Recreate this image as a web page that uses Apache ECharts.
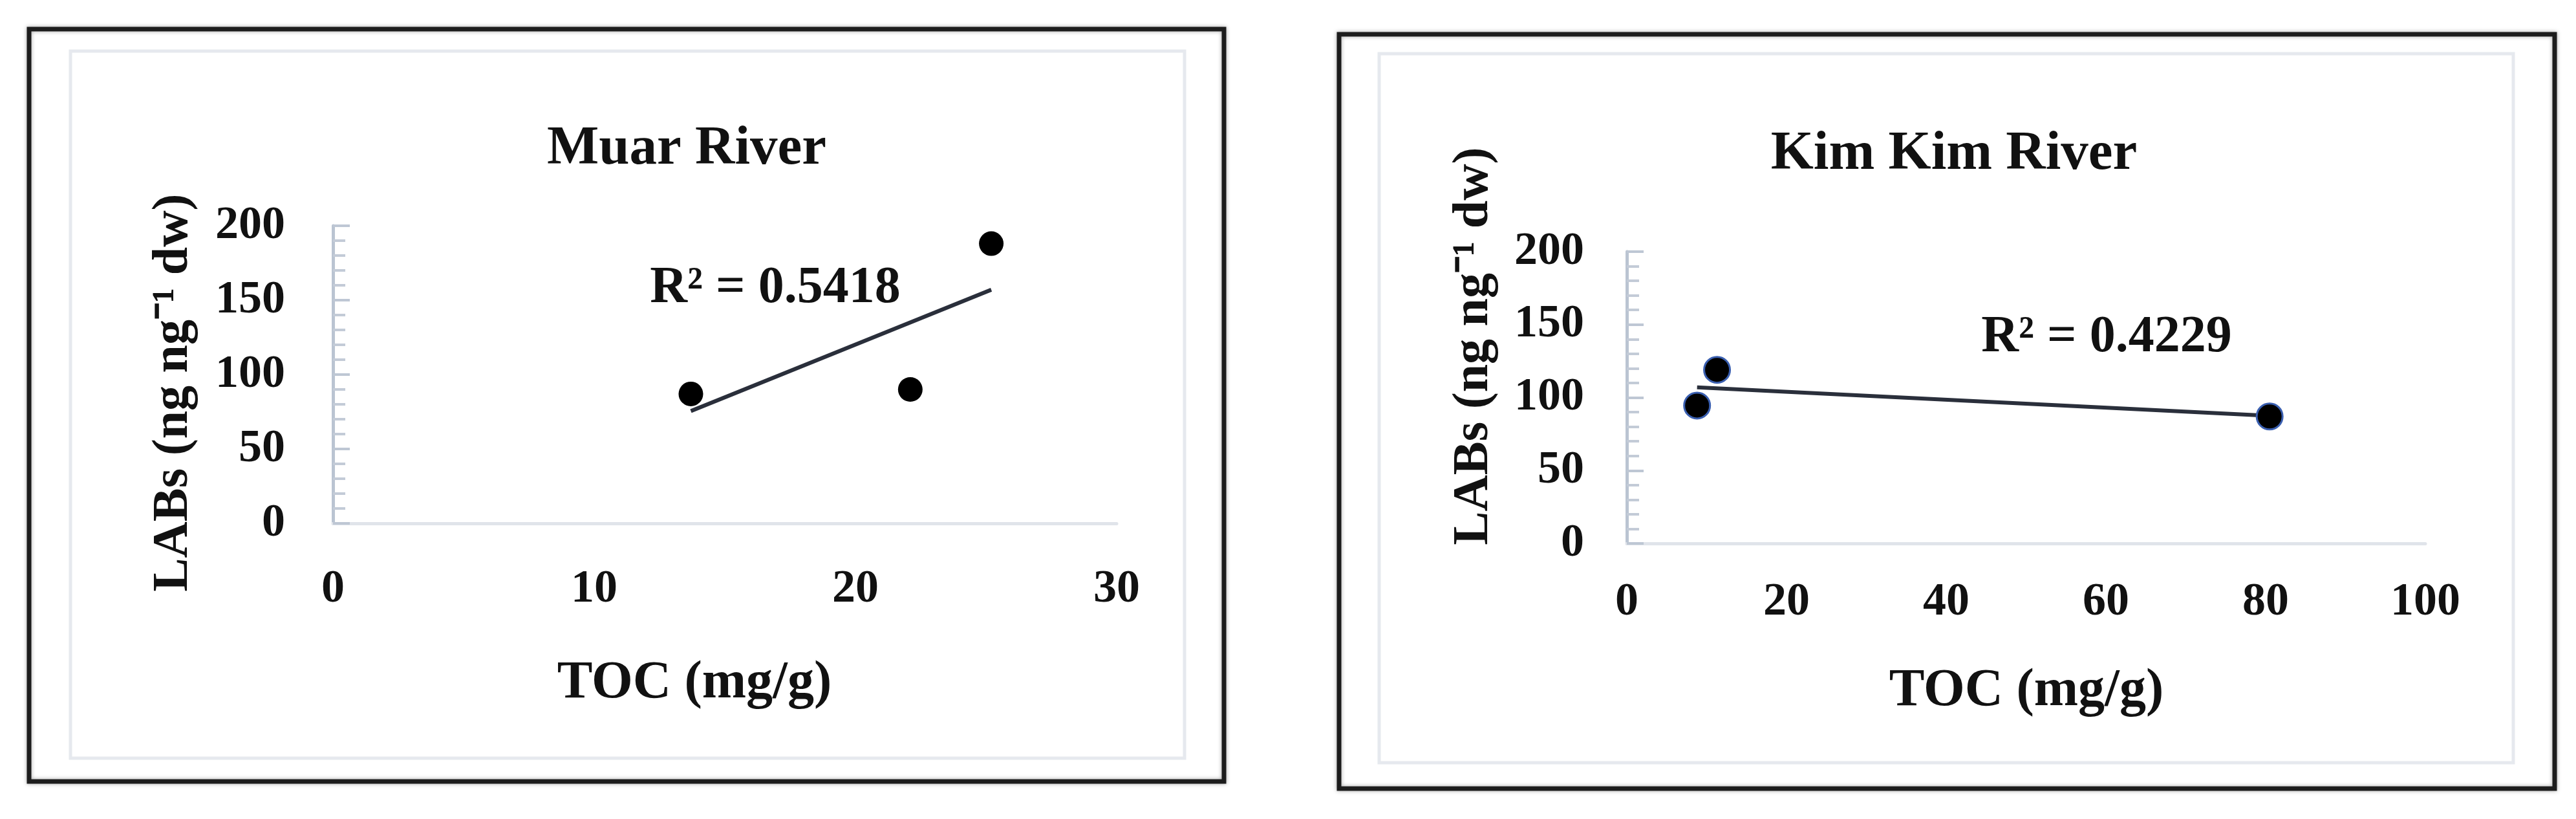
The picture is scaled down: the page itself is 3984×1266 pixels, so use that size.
<!DOCTYPE html>
<html>
<head>
<meta charset="utf-8">
<title>LABs vs TOC</title>
<script src="https://cdn.jsdelivr.net/npm/echarts@6/dist/echarts.min.js"></script>
<style>
  html, body { margin: 0; padding: 0; background: #fff; }
  #chart { width: 3984px; height: 1266px; }
</style>
</head>
<body>
<div id="chart"></div>
<script>
  // values
  const muarToc = [13.7, 22.1, 25.2];
  const muarLabs = [87, 90, 188];
  const muarTrendToc = [13.7, 25.2];
  const muarTrendLabs = [75.5, 157];

  const kimToc = [8.8, 11.3, 80.5];
  const kimLabs = [94.5, 119, 87];
  const kimTrendToc = [8.8, 80.5];
  const kimTrendLabs = [107, 87.5];

  const yTicks = [0, 50, 100, 150, 200];
  const muarXTicks = [0, 10, 20, 30];
  const kimXTicks = [0, 20, 40, 60, 80, 100];

  const titles = ['Muar River', 'Kim Kim River'];
  const r2Labels = ['R² = 0.5418', 'R² = 0.4229'];
  const xName = 'TOC (mg/g)';
  const yName = 'LABs (ng ng⁻¹ dw)';

  const serif = '"Liberation Serif", "Times New Roman", serif';

  function pairs(xs, ys) {
    return xs.map((x, i) => [x, ys[i]]);
  }

  function xAxisOpt(grid, ticks, margin) {
    return {
      type: 'value', gridIndex: grid,
      min: ticks[0], max: ticks[ticks.length - 1], interval: ticks[1] - ticks[0],
      axisLine: { show: true, lineStyle: { color: '#e0e4ea', width: 5 } },
      axisTick: { show: false },
      splitLine: { show: false },
      axisLabel: { color: '#111', fontFamily: serif, fontWeight: 'bold', fontSize: 72, margin: margin }
    };
  }

  function yAxisOpt(grid, margin) {
    return {
      type: 'value', gridIndex: grid,
      min: yTicks[0], max: yTicks[yTicks.length - 1], interval: yTicks[1] - yTicks[0],
      axisLine: { show: true, lineStyle: { color: '#bac4d2', width: 5 } },
      axisTick: { show: true, inside: true, length: 26, lineStyle: { color: '#bec7d4', width: 4 } },
      minorTick: { show: true, splitNumber: 5, length: 19, lineStyle: { color: '#c3cbd7', width: 4 } },
      splitLine: { show: false },
      axisLabel: { color: '#111', fontFamily: serif, fontWeight: 'bold', fontSize: 72, margin: margin }
    };
  }

  function text(x, y, str, size, rot) {
    return {
      type: 'text', x: x, y: y, rotation: rot || 0, z: 10,
      style: {
        text: str, fill: '#111', align: 'center', verticalAlign: 'middle',
        font: 'bold ' + size + 'px ' + serif
      }
    };
  }

  function frame(x1, y1, x2, y2, color, w, shadow) {
    return {
      type: 'rect', z: 1,
      shape: { x: x1, y: y1, width: x2 - x1, height: y2 - y1 },
      style: {
        fill: null, stroke: color, lineWidth: w,
        shadowBlur: shadow ? 6 : 0, shadowColor: 'rgba(0,0,0,0.35)'
      }
    };
  }

  const myChart = echarts.init(document.getElementById('chart'), null, { renderer: 'canvas' });

  const option = {
    backgroundColor: '#fff',
    animation: false,
    grid: [
      { left: 515, top: 349, width: 1212, height: 460 },
      { left: 2516, top: 389, width: 1235, height: 451 }
    ],
    xAxis: [xAxisOpt(0, muarXTicks, 66), xAxisOpt(1, kimXTicks, 55)],
    yAxis: [yAxisOpt(0, 74), yAxisOpt(1, 66)],
    graphic: [
      // panel borders
      frame(45, 45, 1893, 1208, '#1c1c1c', 7, true),
      frame(109, 79, 1832, 1172, '#e6e9ee', 5),
      frame(2071, 53, 3951, 1219, '#1c1c1c', 7, true),
      frame(2133, 83, 3887, 1179, '#e6e9ee', 5),
      // titles
      text(1062, 231, titles[0], 85),
      text(3022, 239, titles[1], 85),
      // axis names
      text(1074, 1057, xName, 82),
      text(3134, 1069, xName, 82),
      text(269, 607, yName, 78, Math.PI / 2),
      text(2280, 535, yName, 78, Math.PI / 2),
      // R squared
      text(1199, 446, r2Labels[0], 80),
      text(3258, 522, r2Labels[1], 80)
    ],
    series: [
      {
        name: 'Muar trend', type: 'line', xAxisIndex: 0, yAxisIndex: 0,
        data: pairs(muarTrendToc, muarTrendLabs),
        symbol: 'none', z: 2,
        lineStyle: { color: '#2a2f3b', width: 6 }
      },
      {
        name: 'Muar', type: 'scatter', xAxisIndex: 0, yAxisIndex: 0,
        data: pairs(muarToc, muarLabs),
        symbolSize: 38, z: 3,
        itemStyle: { color: '#000', opacity: 1 }
      },
      {
        name: 'Kim Kim trend', type: 'line', xAxisIndex: 1, yAxisIndex: 1,
        data: pairs(kimTrendToc, kimTrendLabs),
        symbol: 'none', z: 2,
        lineStyle: { color: '#2a2f3b', width: 6 }
      },
      {
        name: 'Kim Kim', type: 'scatter', xAxisIndex: 1, yAxisIndex: 1,
        data: pairs(kimToc, kimLabs),
        symbolSize: 40, z: 3,
        itemStyle: { color: '#000', borderColor: '#3a5fb0', borderWidth: 3, opacity: 1 }
      }
    ]
  };

  myChart.setOption(option);
</script>
</body>
</html>
